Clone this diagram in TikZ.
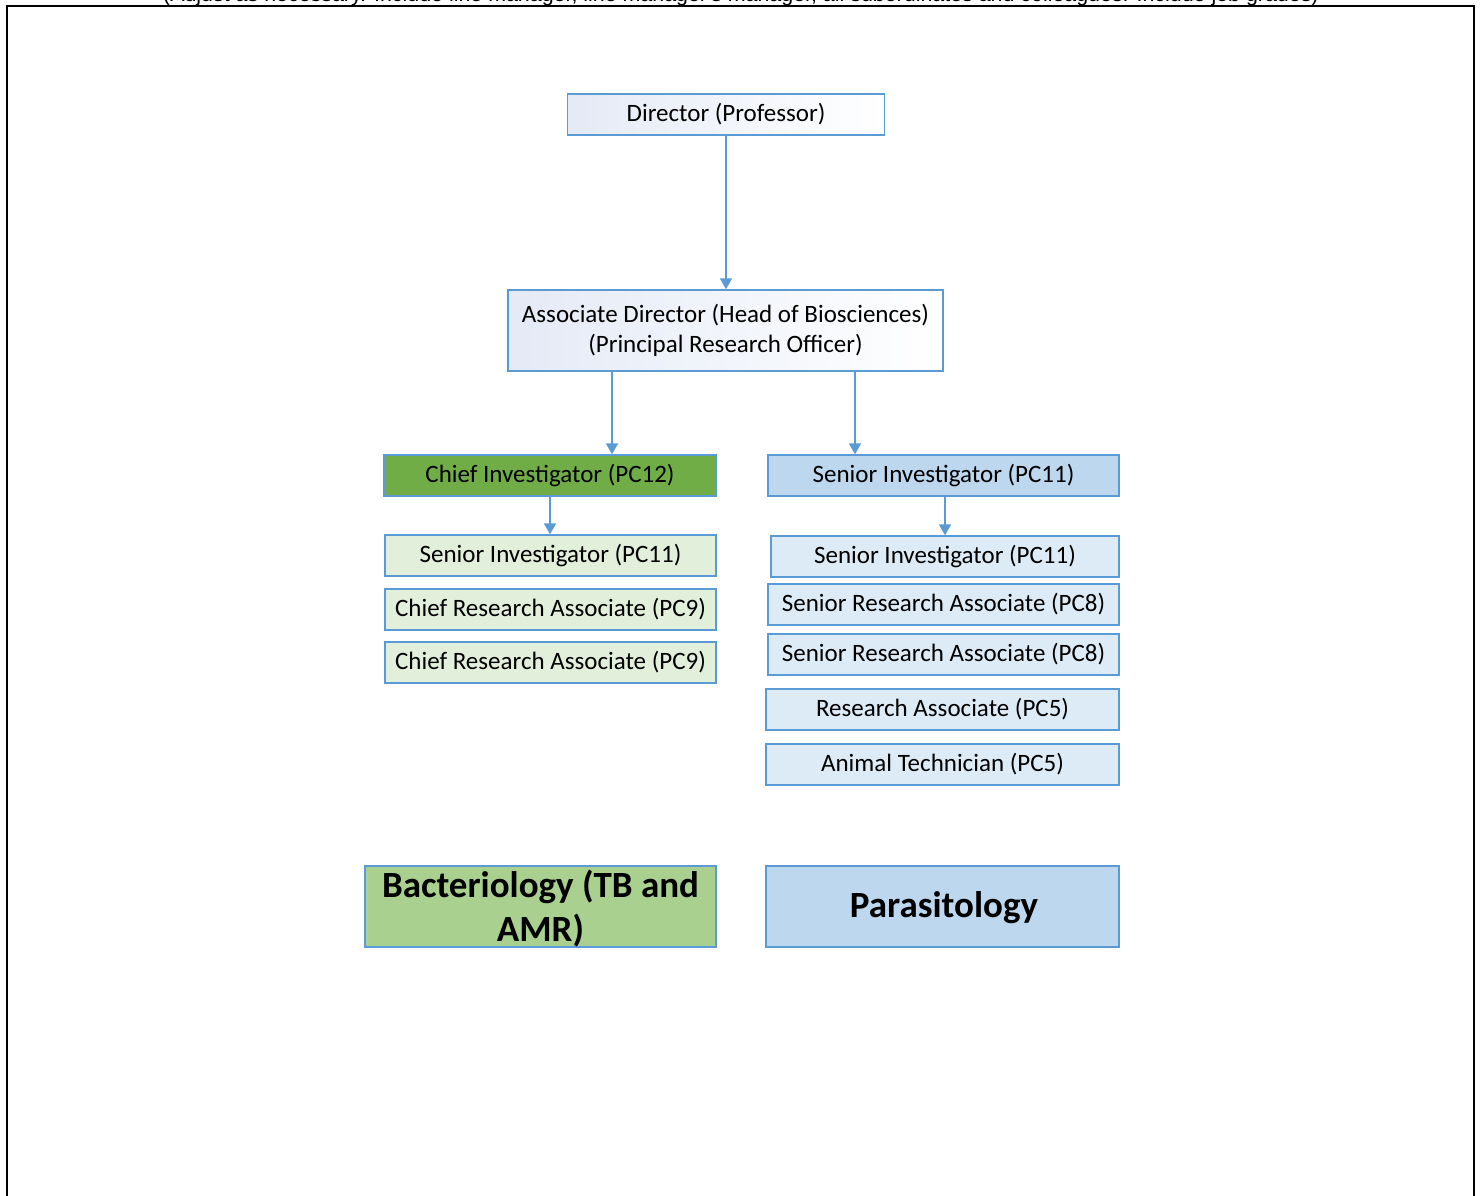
\documentclass[tikz,border=0pt]{standalone}
\usepackage{fontspec}
\setmainfont{Carlito}
\newfontfamily\arialf{Liberation Sans}
\usetikzlibrary{arrows.meta}
\definecolor{bord}{HTML}{5B9BD5}
\definecolor{darkgreen}{HTML}{70AD47}
\definecolor{lightgreen}{HTML}{E2EFDA}
\definecolor{midgreen}{HTML}{A9D08E}
\definecolor{midblue}{HTML}{BDD7EE}
\definecolor{lightblue}{HTML}{DDEBF7}
\definecolor{paleblue}{HTML}{E4EAF6}
\begin{document}
\begin{tikzpicture}[x=1pt,y=-1pt,
  box/.style={draw=bord, line width=1.3pt, inner sep=0pt, font=\fontsize{25}{30}\selectfont, text=black, align=center},
  gradbox/.style={box, left color=paleblue, right color=white},
  titlebox/.style={draw=bord, line width=1.3pt, inner sep=0pt},
  titletext/.style={font=\bfseries\fontsize{37}{44}\selectfont, align=center, inner sep=0pt},
  arr/.style={draw=bord, line width=1.6pt, -{Triangle[width=12pt,length=11pt]}}
]
\useasboundingbox (0,0) rectangle (1484,1195);
% frame
\draw[line width=2pt] (7,1200) -- (7,6) -- (1474,6) -- (1474,1200);
\node[anchor=base, inner sep=0pt, font=\arialf\fontsize{21.4}{24}\selectfont] (note) at (741,1) {(Adjust as necessary. Include line manager, line manager's manager, all subordinates and colleagues. Include job grades)};

% top
\node[gradbox, minimum width=317, minimum height=41] (dir) at (726,114.5) {Director (Professor)};
\node[gradbox, minimum width=435, minimum height=81] (assoc) at (725.5,330.5) {Associate Director (Head of Biosciences)\\(Principal Research Officer)};

% left column
\node[box, fill=darkgreen, minimum width=332, minimum height=41] (ci) at (550,475.5) {Chief Investigator (PC12)};
\node[box, fill=lightgreen, minimum width=331, minimum height=41] (lsi) at (550.5,555.5) {Senior Investigator (PC11)};
\node[box, fill=lightgreen, minimum width=331, minimum height=41] (cra1) at (550.5,609.5) {Chief Research Associate (PC9)};
\node[box, fill=lightgreen, minimum width=331, minimum height=41] (cra2) at (550.5,662.5) {Chief Research Associate (PC9)};

% right column
\node[box, fill=midblue, minimum width=351, minimum height=41] (rsi) at (943.5,475.5) {Senior Investigator (PC11)};
\node[box, fill=lightblue, minimum width=348, minimum height=41] (rsi2) at (945,556.5) {Senior Investigator (PC11)};
\node[box, fill=lightblue, minimum width=351, minimum height=41] (sra1) at (943.5,604.5) {Senior Research Associate (PC8)};
\node[box, fill=lightblue, minimum width=351, minimum height=41] (sra2) at (943.5,654.5) {Senior Research Associate (PC8)};
\node[box, fill=lightblue, minimum width=353, minimum height=41] (ra) at (942.5,709.5) {Research Associate (PC5)};
\node[box, fill=lightblue, minimum width=353, minimum height=41] (at) at (942.5,764.5) {Animal Technician (PC5)};

% titles
\node[titlebox, fill=midgreen, minimum width=351, minimum height=81] (bact) at (540.5,906.5) {};
\node[titletext] (bacttxt) at (540.5,909) {Bacteriology (TB and\\AMR)};
\node[titlebox, fill=midblue, minimum width=353, minimum height=81] (para) at (942.5,906.5) {};
\node[titletext] (paratxt) at (944,908) {Parasitology};

% connectors
\coordinate (xl) at (612,0);
\coordinate (xr) at (855,0);
\coordinate (xli) at (550,0);
\coordinate (xri) at (945,0);
\draw[arr] (dir.south) -- (assoc.north -| dir.south);
\draw[arr] (assoc.south -| xl) -- (ci.north -| xl);
\draw[arr] (assoc.south -| xr) -- (rsi.north -| xr);
\draw[arr] (ci.south -| xli) -- (lsi.north -| xli);
\draw[arr] (rsi.south -| xri) -- (rsi2.north -| xri);
\end{tikzpicture}
\end{document}
